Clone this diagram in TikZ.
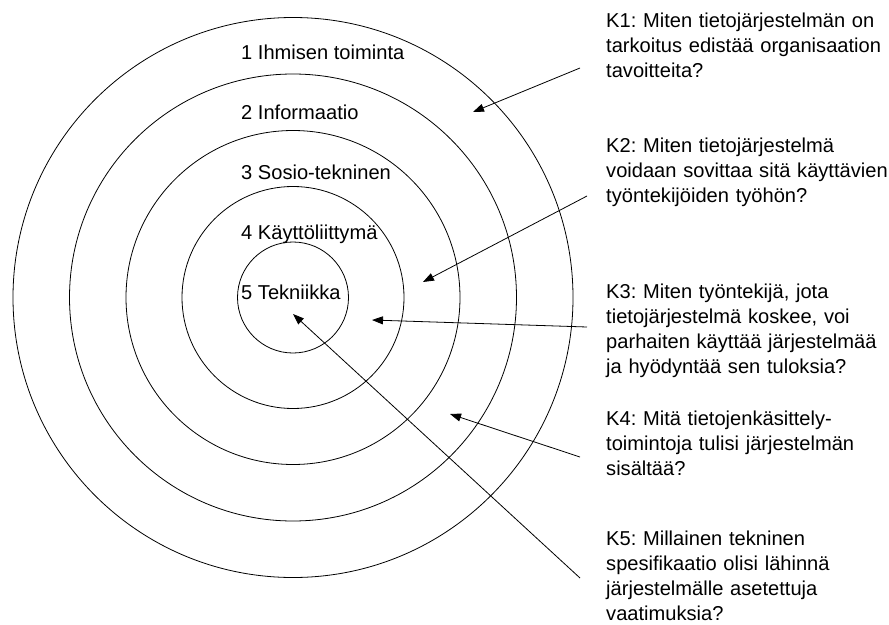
\documentclass[tikz,border=0pt]{standalone}
\usepackage{fontspec}
\setmainfont{Liberation Sans}
\usetikzlibrary{arrows.meta}
\frenchspacing
\hyphenpenalty=10000
\exhyphenpenalty=10000

\begin{document}
\begin{tikzpicture}[x=1pt,y=-1pt,
  ring/.style={circle, draw=black, line width=0.8pt, inner sep=0pt, outer sep=0pt, minimum size=#1},
  ringlabel/.style={anchor=base west, inner sep=0pt, font=\fontsize{20.1}{25}\selectfont},
  question/.style={anchor=base west, inner sep=0pt, text width=330pt, align=left,
                   font=\fontsize{20.1}{25}\selectfont},
  pointer/.style={draw=black, line width=0.8pt, -{Triangle[length=11pt,width=8pt]}}]

\useasboundingbox (0,0) rectangle (889,624);
\fill[white] (0,0) rectangle (889,624);

% concentric layers
\coordinate (c) at (293,297.5);
\node[ring=560pt] (r1) at (c) {};
\node[ring=447pt] (r2) at (c) {};
\node[ring=334pt] (r3) at (c) {};
\node[ring=222pt] (r4) at (c) {};
\node[ring=111pt] (r5) at (c) {};

% layer names
\node[ringlabel] (l1) at (241,59)  {1 Ihmisen toiminta};
\node[ringlabel] (l2) at (241,119) {2 Informaatio};
\node[ringlabel] (l3) at (241,179) {3 Sosio-tekninen};
\node[ringlabel] (l4) at (241,239) {4 Käyttöliittymä};
\node[ringlabel] (l5) at (241,299) {5 Tekniikka};

% questions
\node[question] (k1) at (606,27)  {K1: Miten tietojärjestelmän on\\tarkoitus edistää organisaation\\tavoitteita?};
\node[question] (k2) at (606,152) {K2: Miten tietojärjestelmä\\voidaan sovittaa sitä käyttävien\\työntekijöiden työhön?};
\node[question] (k3) at (606,298) {K3: Miten työntekijä, jota\\tietojärjestelmä koskee, voi\\parhaiten käyttää järjestelmää\\ja hyödyntää sen tuloksia?};
\node[question] (k4) at (606,425) {K4: Mitä tietojenkäsittely-\\toimintoja tulisi järjestelmän\\sisältää?};
\node[question] (k5) at (606,545) {K5: Millainen tekninen\\spesifikaatio olisi lähinnä\\järjestelmälle asetettuja\\vaatimuksia?};

% arrow ends
\coordinate (s1) at (580,68);   \coordinate (t1) at (473,112);
\coordinate (s2) at (587,196);  \coordinate (t2) at (423,282);
\coordinate (s3) at (587,327);  \coordinate (t3) at (372,320);
\coordinate (s4) at (580,457);  \coordinate (t4) at (450,414);
\coordinate (s5) at (580,578);  \coordinate (t5) at (293,314);

\draw[pointer] (s1) -- (t1);
\draw[pointer] (s2) -- (t2);
\draw[pointer] (s3) -- (t3);
\draw[pointer] (s4) -- (t4);
\draw[pointer] (s5) -- (t5);
\end{tikzpicture}
\end{document}
